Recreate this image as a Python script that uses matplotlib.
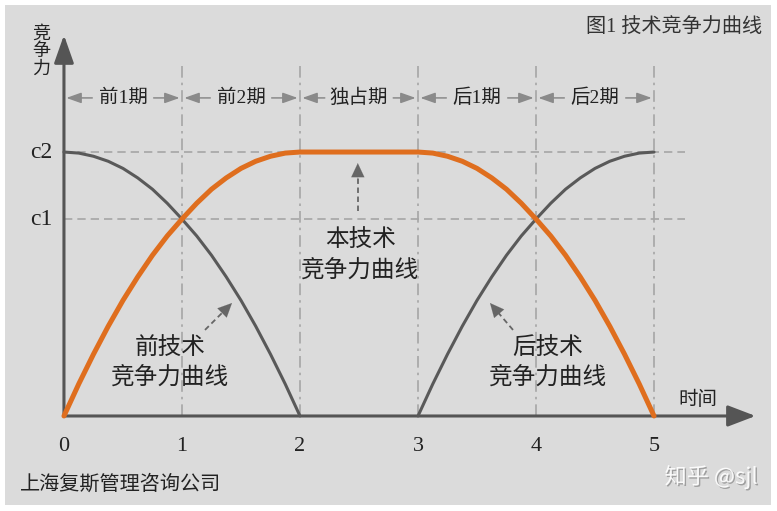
import numpy as np
import matplotlib
matplotlib.use("Agg")
import matplotlib.pyplot as plt
import matplotlib.patheffects as pe
from matplotlib.patches import Rectangle

plt.rcParams['font.family'] = ['Liberation Serif', 'Noto Sans CJK SC']

# 时间刻度 / 竞争力水平
x_ticks = [0, 1, 2, 3, 4, 5]
level_labels = ['c1', 'c2']
level_values = [0.746, 1.0]
periods = ['前1期', '前2期', '独占期', '后1期', '后2期']

# 前技术竞争力曲线 (读图取值)
prev_x = [0, 0.125, 0.25, 0.375, 0.5, 0.625, 0.75, 0.875, 1.0,
          1.125, 1.25, 1.375, 1.5, 1.625, 1.75, 1.875, 2.0]
prev_y = [1.00, 0.996, 0.984, 0.965, 0.938, 0.902, 0.859, 0.806, 0.746,
          0.682, 0.609, 0.527, 0.438, 0.340, 0.234, 0.121, 0.0]

# 本技术竞争力曲线
cur_x = [0, 0.125, 0.25, 0.375, 0.5, 0.625, 0.75, 0.875, 1.0,
         1.125, 1.25, 1.375, 1.5, 1.625, 1.75, 1.875, 2.0,
         3.0, 3.125, 3.25, 3.375, 3.5, 3.625, 3.75, 3.875, 4.0,
         4.125, 4.25, 4.375, 4.5, 4.625, 4.75, 4.875, 5.0]
cur_y = [0.0, 0.121, 0.234, 0.340, 0.438, 0.527, 0.609, 0.682, 0.746,
         0.806, 0.859, 0.902, 0.938, 0.965, 0.984, 0.996, 1.0,
         1.0, 0.996, 0.984, 0.965, 0.938, 0.902, 0.859, 0.806, 0.746,
         0.682, 0.609, 0.527, 0.438, 0.340, 0.234, 0.121, 0.0]

# 后技术竞争力曲线
next_x = [3.0, 3.125, 3.25, 3.375, 3.5, 3.625, 3.75, 3.875, 4.0,
          4.125, 4.25, 4.375, 4.5, 4.625, 4.75, 4.875, 5.0]
next_y = [0.0, 0.121, 0.234, 0.340, 0.438, 0.527, 0.609, 0.682, 0.746,
          0.806, 0.859, 0.902, 0.938, 0.965, 0.984, 0.996, 1.0]

fig = plt.figure(figsize=(7.77, 5.11), dpi=100)
fig.patch.set_facecolor('white')
ax = fig.add_axes([0, 0, 1, 1])
ax.set_facecolor('none')
ax.axis('off')
ax.set_xlim(-0.542, 6.042)
ax.set_ylim(-0.360, 1.576)
ax.add_patch(Rectangle((5 / 777, 6 / 511), 766 / 777, 500 / 511,
                       transform=fig.transFigure, facecolor='#dbdbdb',
                       edgecolor='none', zorder=0))

axis_col = '#555555'
grid_col = '#a6a6a6'
text_col = '#222222'

# 辅助虚线
for v in level_values:
    ax.plot([0, 5.26], [v, v], color=grid_col, lw=1.2, ls=(0, (5, 3)), zorder=1)
for t in x_ticks[1:]:
    ax.plot([t, t], [0, 1.33], color=grid_col, lw=1.2, ls=(0, (7, 3, 1.5, 3)), zorder=1)

# 坐标轴
ax.annotate('', xy=(5.86, 0), xytext=(0, 0),
            arrowprops=dict(arrowstyle='-|>,head_length=17,head_width=6.5',
                            mutation_scale=1, color=axis_col, lw=2.2,
                            shrinkA=0, shrinkB=0), zorder=3)
ax.annotate('', xy=(0, 1.443), xytext=(0, 0),
            arrowprops=dict(arrowstyle='-|>,head_length=17,head_width=6',
                            mutation_scale=1, color=axis_col, lw=2.2,
                            shrinkA=0, shrinkB=0), zorder=3)

# 曲线
ax.plot(prev_x, prev_y, color='#595959', lw=2.2, solid_capstyle='round', zorder=4)
ax.plot(next_x, next_y, color='#595959', lw=2.2, solid_capstyle='round', zorder=4)
ax.plot(cur_x, cur_y, color='#df6e1e', lw=3.6, solid_capstyle='round', zorder=5)

# 刻度
for t in x_ticks:
    ax.text(t, -0.117, str(t), ha='center', va='center', fontsize=16, color=text_col)
for lab, v in zip(level_labels, level_values):
    ax.text(-0.10, v, lab, ha='right', va='center', fontsize=17, color=text_col)

# 阶段
for i, p in enumerate(periods):
    c = i + 0.5
    half = 0.29 if not any(ch.isdigit() for ch in p) else 0.26
    for tail, tip in ((c - half, i + 0.02), (c + half, i + 0.98)):
        ax.annotate('', xy=(tip, 1.205), xytext=(tail, 1.205),
                    arrowprops=dict(arrowstyle='-|>,head_length=9,head_width=3.2',
                                    mutation_scale=1, color='#8a8a8a', lw=1.1,
                                    shrinkA=0, shrinkB=0), zorder=3)
    ax.text(c, 1.205, p, ha='center', va='center', fontsize=14, color=text_col)

# 说明箭头
notes = [((1.195, 0.326), (1.424, 0.428)),
         ((2.49, 0.775), (2.49, 0.958)),
         ((3.805, 0.326), (3.61, 0.428))]
for (x0, y0), (x1, y1) in notes:
    ax.plot([x0, x0 + 0.75 * (x1 - x0)], [y0, y0 + 0.75 * (y1 - y0)],
            color='#666666', lw=1.3, ls=(0, (3, 2)), zorder=3)
    ax.annotate('', xy=(x1, y1), xytext=(x0 + 0.6 * (x1 - x0), y0 + 0.6 * (y1 - y0)),
                arrowprops=dict(arrowstyle='-|>,head_length=10,head_width=4.7',
                                mutation_scale=1, color='#666666', lw=0.1,
                                shrinkA=0, shrinkB=0), zorder=3)

ax.text(2.51, 0.667, '本技术', ha='center', va='center', fontsize=17, color=text_col)
ax.text(2.51, 0.553, '竞争力曲线', ha='center', va='center', fontsize=17, color=text_col)
ax.text(0.90, 0.258, '前技术', ha='center', va='center', fontsize=17, color=text_col)
ax.text(0.90, 0.144, '竞争力曲线', ha='center', va='center', fontsize=17, color=text_col)
ax.text(4.10, 0.258, '后技术', ha='center', va='center', fontsize=17, color=text_col)
ax.text(4.10, 0.144, '竞争力曲线', ha='center', va='center', fontsize=17, color=text_col)

ax.text(-0.195, 1.379, '竞\n争\n力', ha='center', va='center', fontsize=13,
        linespacing=1.05, color=text_col)
ax.text(5.37, 0.06, '时间', ha='center', va='center', fontsize=14, color=text_col)
ax.text(5.915, 1.473, '图1 技术竞争力曲线', ha='right', va='center', fontsize=14.5,
        color='#333333')
ax.text(-0.373, -0.261, '上海复斯管理咨询公司', ha='left', va='center', fontsize=14.5,
        color=text_col)
ax.text(5.88, -0.231, '知乎 @sjl', ha='right', va='center', fontsize=16,
        family=['Noto Sans CJK SC', 'DejaVu Sans'], color='white', alpha=0.9,
        path_effects=[pe.withSimplePatchShadow(offset=(1, -1), shadow_rgbFace='#777777',
                                               alpha=0.6)])

fig.savefig('out.png', dpi=100)
